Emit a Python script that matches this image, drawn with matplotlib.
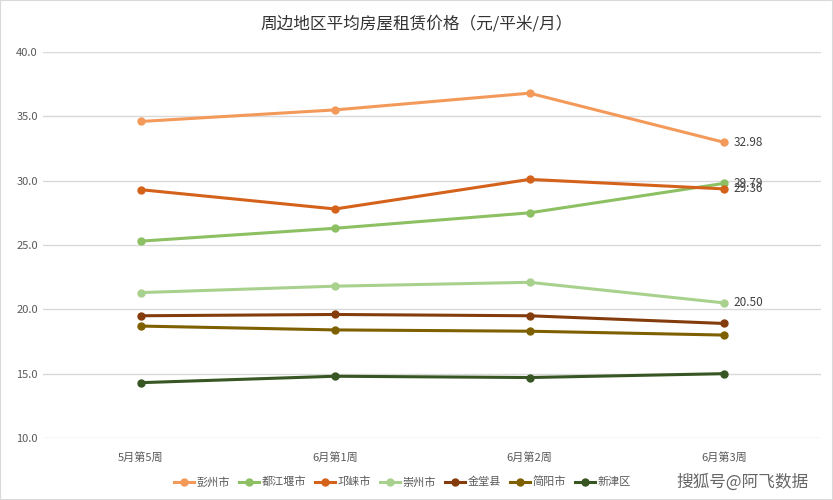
import matplotlib.pyplot as plt
import matplotlib.patches as mpatches

plt.rcParams['font.family'] = ['Noto Sans CJK SC', 'DejaVu Sans']

weeks = ["5月第5周", "6月第1周", "6月第2周", "6月第3周"]

pengzhou = [34.6, 35.5, 36.8, 32.98]
dujiangyan = [25.3, 26.3, 27.5, 29.79]
qionglai = [29.3, 27.8, 30.1, 29.36]
chongzhou = [21.3, 21.8, 22.1, 20.50]
jintang = [19.5, 19.6, 19.5, 18.9]
jianyang = [18.7, 18.4, 18.3, 18.0]
xinjin = [14.3, 14.8, 14.7, 15.0]

series = [
    ("彭州市", pengzhou, "#F39A5B", True),
    ("都江堰市", dujiangyan, "#8CC063", True),
    ("邛崃市", qionglai, "#D5621A", True),
    ("崇州市", chongzhou, "#A9D18E", True),
    ("金堂县", jintang, "#843C0C", False),
    ("简阳市", jianyang, "#7F6000", False),
    ("新津区", xinjin, "#375623", False),
]

fig = plt.figure(figsize=(8.33, 5), dpi=100)
ax = fig.add_axes([0.052, 0.124, 0.934, 0.772])

x = list(range(len(weeks)))
for name, vals, color, lab in series:
    ax.plot(x, vals, color=color, lw=2.2, marker='o', ms=5, label=name)
    if lab:
        ax.text(x[-1] + 0.05, vals[-1], f"{vals[-1]:.2f}", va='center', ha='left',
                fontsize=8.5, color='#404040')

ax.set_xlim(-0.5, 3.5)
ax.set_ylim(10, 40)
ax.set_yticks([10, 15, 20, 25, 30, 35, 40])
ax.set_yticklabels([f"{v:.1f}" for v in [10, 15, 20, 25, 30, 35, 40]])
ax.set_xticks(x)
ax.set_xticklabels(weeks)
ax.tick_params(axis='both', length=0, labelsize=8, colors='#595959')
ax.tick_params(axis='x', pad=10)
ax.tick_params(axis='y', pad=4)
ax.grid(axis='y', color='#D9D9D9', lw=1)
ax.set_axisbelow(True)
for s in ax.spines.values():
    s.set_visible(False)

fig.text(0.5, 0.952, "周边地区平均房屋租赁价格（元/平米/月）", ha='center', va='center',
         fontsize=12, color='#333333')

fig.legend(loc='center', bbox_to_anchor=(0.483, 0.036), ncol=7, frameon=False,
           fontsize=8, handlelength=1.8, columnspacing=0.8, handletextpad=0.25,
           labelcolor='#595959')

fig.text(0.97, 0.036, "搜狐号@阿飞数据", ha='right', va='center', fontsize=12,
         color='#666666')

fig.patches.append(mpatches.Rectangle((0, 0), 1, 1, transform=fig.transFigure,
                                      fill=False, ec='#D9D9D9', lw=1.5))

fig.savefig("out.png", dpi=100)
